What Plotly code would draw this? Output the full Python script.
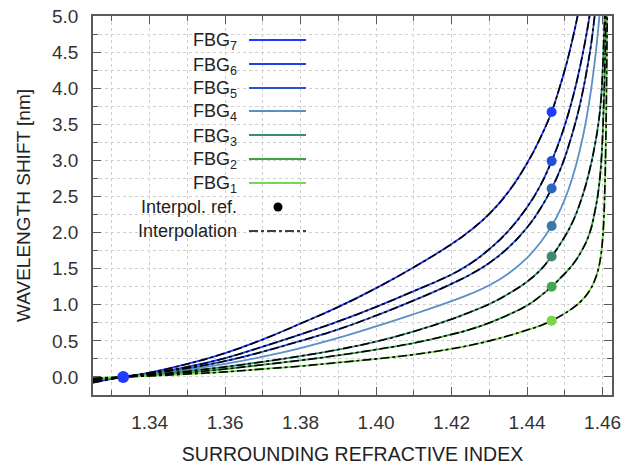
import plotly.graph_objects as go

# ---------------- data ----------------
n_common = [1.325, 1.333, 1.34, 1.35, 1.36, 1.37, 1.38, 1.39, 1.40, 1.41,
            1.42, 1.425, 1.43, 1.435, 1.44, 1.4435, 1.4465]

fbg7_base = [-0.08, 0, 0.06, 0.18, 0.33, 0.52, 0.74, 0.97, 1.23, 1.52,
             1.84, 2.03, 2.26, 2.56, 2.96, 3.31, 3.67]
fbg7_n_tail = [1.4485, 1.4505, 1.452, 1.4535, 1.455]
fbg7_tail = [3.99, 4.35, 4.67, 5.03, 5.45]

fbg6_base = [-0.065, 0, 0.05, 0.14, 0.26, 0.42, 0.59, 0.77, 0.97, 1.19,
             1.42, 1.57, 1.77, 2.02, 2.35, 2.65, 2.99]
fbg6_n_tail = [1.449, 1.451, 1.4525, 1.454, 1.4555, 1.4566, 1.458]
fbg6_tail = [3.33, 3.66, 3.95, 4.29, 4.68, 5.02, 5.55]

fbg5_base = [-0.055, 0, 0.045, 0.12, 0.22, 0.35, 0.50, 0.66, 0.85, 1.06,
             1.29, 1.42, 1.58, 1.79, 2.07, 2.33, 2.61]
fbg5_n_tail = [1.449, 1.451, 1.453, 1.4545, 1.456, 1.457, 1.4579, 1.459]
fbg5_tail = [2.90, 3.20, 3.56, 3.89, 4.30, 4.62, 5.0, 5.49]

fbg4_base = [-0.045, 0, 0.04, 0.10, 0.18, 0.28, 0.40, 0.54, 0.70, 0.87,
             1.05, 1.15, 1.27, 1.43, 1.65, 1.86, 2.09]
fbg4_n_tail = [1.449, 1.451, 1.453, 1.455, 1.4565, 1.4578, 1.4586, 1.4592, 1.460]
fbg4_tail = [2.34, 2.60, 2.94, 3.38, 3.82, 4.31, 4.69, 5.02, 5.55]

fbg3_base = [-0.035, 0, 0.03, 0.08, 0.14, 0.21, 0.29, 0.38, 0.49, 0.63,
             0.80, 0.90, 1.01, 1.15, 1.32, 1.48, 1.67]
fbg3_n_tail = [1.449, 1.452, 1.4545, 1.4565, 1.458, 1.459, 1.4596, 1.460,
               1.4603, 1.4606, 1.461]
fbg3_tail = [1.86, 2.14, 2.48, 2.85, 3.22, 3.55, 3.85, 4.22, 4.62, 5.08, 5.8]

fbg2_base = [-0.027, 0, 0.02, 0.06, 0.11, 0.17, 0.23, 0.30, 0.38, 0.47,
             0.59, 0.66, 0.75, 0.86, 0.99, 1.12, 1.25]
fbg2_n_tail = [1.449, 1.452, 1.4545, 1.4565, 1.458, 1.459, 1.4596, 1.460,
               1.4603, 1.4606, 1.4609, 1.4613]
fbg2_tail = [1.38, 1.55, 1.75, 1.98, 2.30, 2.62, 2.95, 3.32, 3.75, 4.3, 5.0, 6.0]

fbg1_base = [-0.018, 0, 0.015, 0.04, 0.07, 0.11, 0.15, 0.20, 0.25, 0.31,
             0.39, 0.44, 0.50, 0.57, 0.65, 0.71, 0.78]
fbg1_n_tail = [1.449, 1.452, 1.4545, 1.4565, 1.458, 1.459, 1.4596, 1.460,
               1.4603, 1.4606, 1.4609, 1.4611, 1.4613]
fbg1_tail = [0.85, 0.95, 1.06, 1.19, 1.35, 1.52, 1.70, 1.90, 2.15, 2.6, 3.4, 4.3, 5.3]

ref_n = [1.333]
ref_shift = [0.0]
marker_n = 1.4465
marker_shift = [3.67, 2.99, 2.61, 2.09, 1.67, 1.25, 0.78]   # FBG7 ... FBG1

names = ["FBG<sub>7</sub>", "FBG<sub>6</sub>", "FBG<sub>5</sub>", "FBG<sub>4</sub>",
         "FBG<sub>3</sub>", "FBG<sub>2</sub>", "FBG<sub>1</sub>"]
legend_extra = ["Interpol. ref.", "Interpolation"]
colors = ["#2336ff", "#2340e6", "#2a52d6", "#5b8fc6", "#3d8c76", "#3fa045", "#78d552"]
marker_colors = ["#1f3cff", "#2050d8", "#2c68b8", "#3c78a8", "#3c8a72", "#46a64e", "#7ad646"]
has_interp = [True, True, True, False, True, True, True]

x_title = "SURROUNDING REFRACTIVE INDEX"
y_title = "WAVELENGTH SHIFT [nm]"

curves = [
    (n_common + fbg7_n_tail, fbg7_base + fbg7_tail),
    (n_common + fbg6_n_tail, fbg6_base + fbg6_tail),
    (n_common + fbg5_n_tail, fbg5_base + fbg5_tail),
    (n_common + fbg4_n_tail, fbg4_base + fbg4_tail),
    (n_common + fbg3_n_tail, fbg3_base + fbg3_tail),
    (n_common + fbg2_n_tail, fbg2_base + fbg2_tail),
    (n_common + fbg1_n_tail, fbg1_base + fbg1_tail),
]

FONT = "Liberation Sans, Arial, sans-serif"
SMOOTH = 1.3
fig = go.Figure()

for (xs, ys), nm, c in zip(curves, names, colors):
    fig.add_trace(go.Scatter(x=xs, y=ys, mode="lines", name=nm,
                             line=dict(color=c, width=1.8, shape="spline", smoothing=SMOOTH),
                             showlegend=False, hoverinfo="skip"))

for (xs, ys), hi in zip(curves, has_interp):
    if hi:
        fig.add_trace(go.Scatter(x=xs, y=ys, mode="lines", name="Interpolation",
                                 line=dict(color="black", width=1.6, dash="dashdot",
                                           shape="spline", smoothing=SMOOTH),
                                 showlegend=False, hoverinfo="skip"))

fig.add_trace(go.Scatter(x=[marker_n] * len(marker_shift), y=marker_shift, mode="markers",
                         marker=dict(color=marker_colors, size=10), showlegend=False))
fig.add_trace(go.Scatter(x=ref_n, y=ref_shift, mode="markers",
                         marker=dict(color="#1f3cff", size=12), showlegend=False))

# ---------------- custom legend (text left, sample right, like the original) ----------------
W, H = 633, 468
L, R, T, B = 93, 21, 16, 73
pw, ph = W - L - R, H - T - B


def px(x):
    return (x - L) / pw


def py(y):
    return 1 - (y - T) / ph


rows = [40, 64, 88, 111, 135, 159, 183, 207, 231]
labels = names + legend_extra
shapes = []
annotations = []
for i, (yr, lab) in enumerate(zip(rows, labels)):
    off = 2 if i < 7 else 0
    annotations.append(dict(x=px(239), y=py(yr + off), xref="paper", yref="paper",
                            text=lab, showarrow=False, xanchor="right", yanchor="middle",
                            font=dict(family=FONT, size=18, color="#222")))
    if i < 7:
        shapes.append(dict(type="line", xref="paper", yref="paper",
                           x0=px(249), x1=px(306), y0=py(yr), y1=py(yr),
                           line=dict(color=colors[i], width=2)))
    elif i == 7:
        r = 4.5
        shapes.append(dict(type="circle", xref="paper", yref="paper",
                           x0=px(278 - r), x1=px(278 + r), y0=py(yr + r), y1=py(yr - r),
                           fillcolor="black", line=dict(color="black", width=0)))
    else:
        shapes.append(dict(type="line", xref="paper", yref="paper",
                           x0=px(249), x1=px(306), y0=py(yr), y1=py(yr),
                           line=dict(color="black", width=1.5, dash="dashdot")))

grid = "#cfcfcf"
axis_common = dict(showline=True, linecolor="#5a5a5a", linewidth=1.5, mirror="allticks",
                   ticks="inside", ticklen=8, tickwidth=1.2, tickcolor="#5a5a5a",
                   showgrid=True, gridcolor=grid, griddash="dot", gridwidth=1,
                   zeroline=False, automargin=False,
                   tickfont=dict(family=FONT, size=19, color="#333"))

fig.update_layout(
    width=W, height=H,
    margin=dict(l=L, r=R, t=T, b=B),
    paper_bgcolor="white", plot_bgcolor="white",
    showlegend=False,
    shapes=shapes, annotations=annotations,
    xaxis=dict(range=[1.325, 1.4625], tick0=1.34, dtick=0.02, tickformat=".2f",
               minor=dict(tick0=1.33, dtick=0.01, ticks="inside", ticklen=5,
                          tickcolor="#5a5a5a", showgrid=True, gridcolor=grid, griddash="dot"),
               title=dict(text=x_title, font=dict(family=FONT, size=19.5, color="#222"),
                          standoff=16),
               ticklabelstandoff=9,
               **axis_common),
    yaxis=dict(range=[-0.25, 5.0], tick0=0, dtick=0.5, tickformat=".1f",
               minor=dict(tick0=0, dtick=0.25, ticks="inside", ticklen=5,
                          tickcolor="#5a5a5a", showgrid=True, gridcolor=grid, griddash="dot"),
               title=dict(text=y_title, font=dict(family=FONT, size=19, color="#222"),
                          standoff=16),
               ticklabelstandoff=9,
               **axis_common),
)

fig.write_html("out.html")
